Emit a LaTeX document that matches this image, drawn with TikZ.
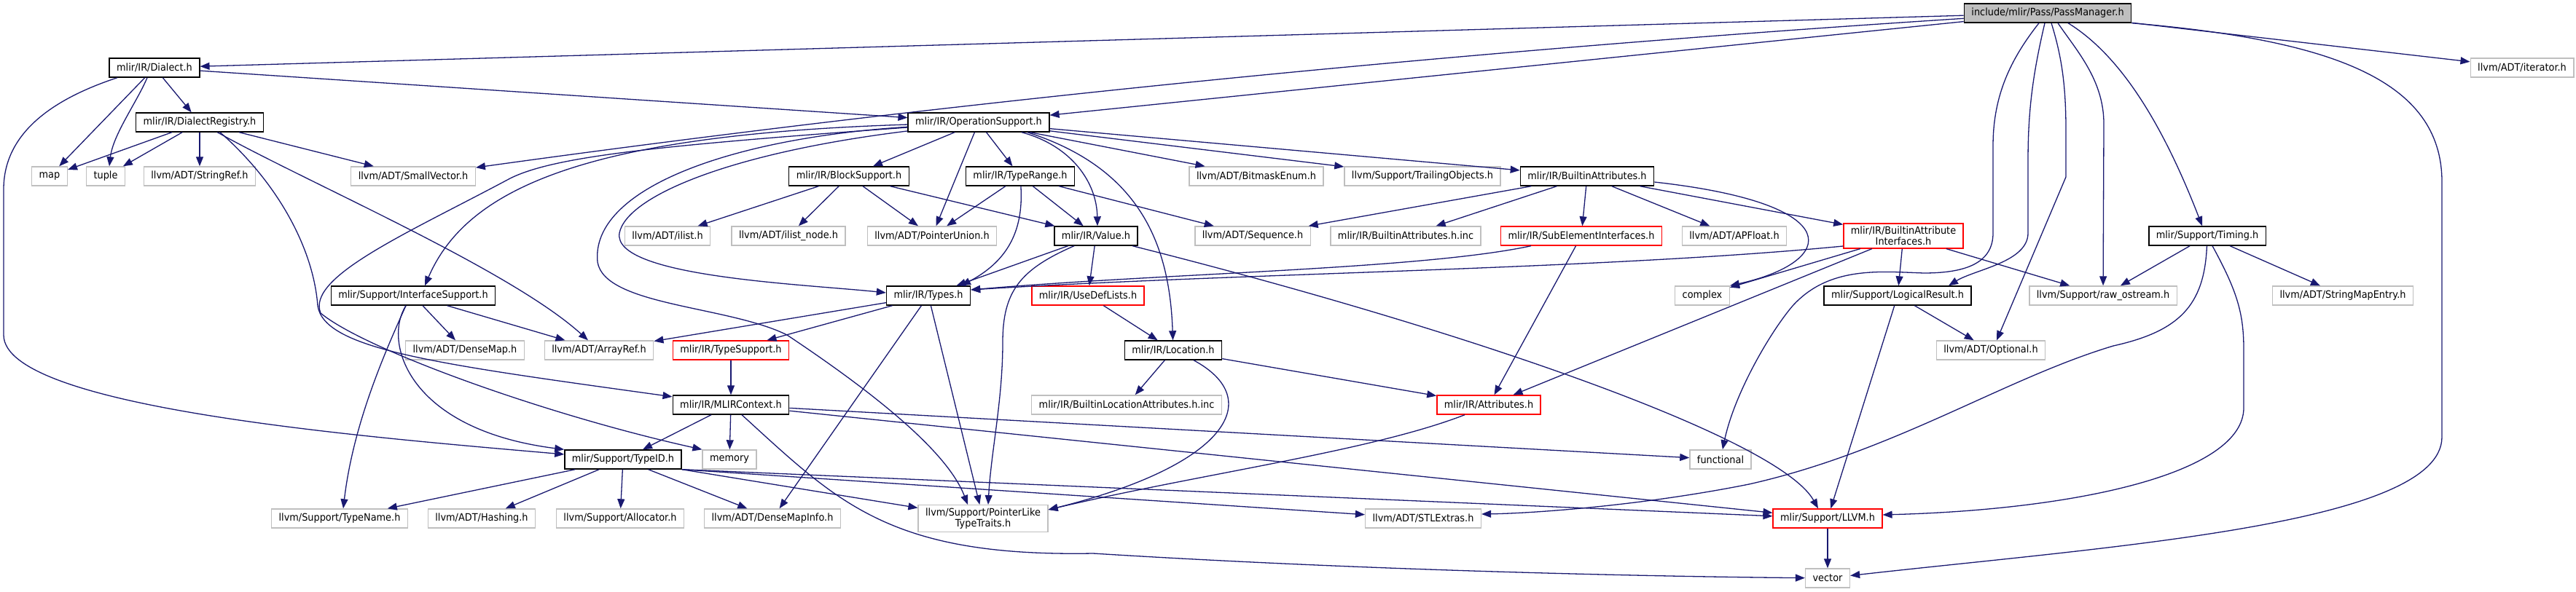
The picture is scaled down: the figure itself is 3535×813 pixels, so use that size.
\documentclass[tikz,border=0pt]{standalone}
\usepackage{fontspec}
\setmainfont{DejaVu Sans}[FakeStretch=0.92]
\usetikzlibrary{arrows.meta}
\definecolor{edgeblue}{HTML}{191970}
\definecolor{extgray}{HTML}{BFBFBF}
\begin{document}
\begin{tikzpicture}[x=1pt, y=-1pt, >={Triangle[length=13pt,width=10pt]},
  filebox/.style={draw, line width=1.4pt, fill=white, minimum height=26pt, inner xsep=10pt, inner ysep=4pt, align=center, font=\fontsize{14}{15}\selectfont},
  docfile/.style={filebox, draw=black}, extfile/.style={filebox, draw=extgray}, cutfile/.style={filebox, draw=red}, rootfile/.style={filebox, draw=black, fill=extgray},
  incl/.style={->, draw=edgeblue, line width=1.3pt}]
\useasboundingbox (0,0) rectangle (3535,813);
\node[rootfile] (pm) at (2810,18) {include/mlir/Pass/PassManager.h};
\node[docfile] (dia) at (212,93) {mlir/IR/Dialect.h}; \node[extfile] (iter) at (3461,93) {llvm/ADT/iterator.h};
\node[docfile] (reg) at (274,168) {mlir/IR/DialectRegistry.h}; \node[docfile] (ops) at (1343,168) {mlir/IR/OperationSupport.h};
\node[extfile] (map) at (68,242) {map}; \node[extfile] (tuple) at (145,242) {tuple};
\node[extfile] (sref) at (274,242) {llvm/ADT/StringRef.h}; \node[extfile] (svec) at (567,242) {llvm/ADT/SmallVector.h};
\node[docfile] (blk) at (1165,242) {mlir/IR/BlockSupport.h}; \node[docfile] (trng) at (1400,242) {mlir/IR/TypeRange.h};
\node[extfile] (bmask) at (1724,242) {llvm/ADT/BitmaskEnum.h}; \node[extfile] (trail) at (1952,242) {llvm/Support/TrailingObjects.h};
\node[docfile] (battr) at (2178,242) {mlir/IR/BuiltinAttributes.h};
\node[extfile] (ilist) at (916,324) {llvm/ADT/ilist.h}; \node[extfile] (inode) at (1082,324) {llvm/ADT/ilist\_node.h};
\node[extfile] (punion) at (1279,324) {llvm/ADT/PointerUnion.h}; \node[docfile] (val) at (1504,324) {mlir/IR/Value.h};
\node[extfile] (seq) at (1719,324) {llvm/ADT/Sequence.h}; \node[extfile] (binc) at (1929,324) {mlir/IR/BuiltinAttributes.h.inc};
\node[cutfile] (sub) at (2170,324) {mlir/IR/SubElementInterfaces.h}; \node[extfile] (apf) at (2380,324) {llvm/ADT/APFloat.h};
\node[cutfile] (bai) at (2612,324) {mlir/IR/BuiltinAttribute\\Interfaces.h}; \node[docfile] (tim) at (3029,324) {mlir/Support/Timing.h};
\node[docfile] (isup) at (567,406) {mlir/Support/InterfaceSupport.h}; \node[docfile] (types) at (1274,406) {mlir/IR/Types.h};
\node[cutfile] (udl) at (1493,406) {mlir/IR/UseDefLists.h}; \node[extfile] (cplx) at (2336,406) {complex};
\node[docfile] (lres) at (2604,406) {mlir/Support/LogicalResult.h}; \node[extfile] (raw) at (2886,406) {llvm/Support/raw\_ostream.h};
\node[extfile] (smap) at (3215,406) {llvm/ADT/StringMapEntry.h};
\node[extfile] (dmap) at (638,481) {llvm/ADT/DenseMap.h}; \node[extfile] (aref) at (822,481) {llvm/ADT/ArrayRef.h};
\node[cutfile] (tsup) at (1003,481) {mlir/IR/TypeSupport.h}; \node[docfile] (loc) at (1610,481) {mlir/IR/Location.h};
\node[extfile] (opt) at (2732,481) {llvm/ADT/Optional.h};
\node[docfile] (ctx) at (1003,556) {mlir/IR/MLIRContext.h}; \node[extfile] (blinc) at (1546,556) {mlir/IR/BuiltinLocationAttributes.h.inc};
\node[cutfile] (attr) at (2043,556) {mlir/IR/Attributes.h};
\node[docfile] (tid) at (855,631) {mlir/Support/TypeID.h}; \node[extfile] (mem) at (1001,631) {memory}; \node[extfile] (func) at (2361,631) {functional};
\node[extfile] (tname) at (466,712) {llvm/Support/TypeName.h}; \node[extfile] (hash) at (661,712) {llvm/ADT/Hashing.h};
\node[extfile] (alloc) at (851,712) {llvm/Support/Allocator.h}; \node[extfile] (dmi) at (1060,712) {llvm/ADT/DenseMapInfo.h};
\node[extfile] (plt) at (1349,712) {llvm/Support/PointerLike\\TypeTraits.h}; \node[extfile] (stl) at (1953,712) {llvm/ADT/STLExtras.h};
\node[cutfile] (llvm) at (2508,712) {mlir/Support/LLVM.h}; \node[extfile] (vec) at (2508,794) {vector};
\draw[incl] (pm) -- (dia); \draw[incl] (pm) -- (ops); \draw[incl] (pm) -- (iter);
\draw[incl] (pm) .. controls (2000,70) and (1300,140) .. (svec);
\draw[incl] ([xshift=-12pt]pm.south) .. controls (2760,80) and (2735,130) .. (2735,200) -- (2735,320) .. controls (2735,360) and (2700,375) .. (2640,375) .. controls (2580,373) and (2510,365) .. (2460,420) .. controls (2430,455) and (2380,540) .. (func);
\draw[incl] ([xshift=-4pt]pm.south) .. controls (2790,100) and (2783,150) .. (2783,220) -- (2783,320) .. controls (2783,360) and (2710,370) .. ([xshift=70pt]lres.north);
\draw[incl] ([xshift=5pt]pm.south) .. controls (2830,80) and (2835,120) .. (2835,180) -- (2835,243) -- ([xshift=8pt]opt.north);
\draw[incl] ([xshift=14pt]pm.south) .. controls (2850,70) and (2887,110) .. (2887,170) -- (raw);
\draw[incl] ([xshift=28pt]pm.south) .. controls (2900,70) and (2960,150) .. ([xshift=-7pt]tim.north);
\draw[incl] (pm.south east) .. controls (3200,55) and (3351,110) .. (3351,250) -- (3351,600) .. controls (3351,720) and (2900,750) .. (vec);
\draw[incl] (dia) -- (ops); \draw[incl] (dia) -- (reg); \draw[incl] (dia) -- (map);
\draw[incl] ([xshift=-10pt]dia.south) .. controls (188,140) and (155,185) .. ([xshift=5pt]tuple.north);
\draw[incl] ([xshift=-51pt]dia.south) .. controls (60,140) and (5,190) .. (5,260) -- (5,460) .. controls (5,560) and (500,600) .. (tid);
\draw[incl] (reg) -- (map); \draw[incl] (reg) -- (tuple); \draw[incl] (reg) -- (sref); \draw[incl] (reg) -- (svec);
\draw[incl] (reg) .. controls (420,250) and (700,370) .. (aref);
\draw[incl] ([xshift=28pt]reg.south) .. controls (380,250) and (430,340) .. (436,420) .. controls (445,480) and (600,500) .. (ctx);
\draw[incl] (ops) -- (blk); \draw[incl] (ops) -- (punion); \draw[incl] (ops) -- (trng);
\draw[incl] (ops) -- (bmask); \draw[incl] (ops) -- (trail); \draw[incl] (ops) -- (battr);
\draw[incl] ([xshift=59pt]ops.south) .. controls (1470,200) and (1505,250) .. ([xshift=2pt]val.north);
\draw[incl] ([xshift=67pt]ops.south) .. controls (1560,230) and (1605,330) .. (loc);
\draw[incl] (ops) .. controls (800,185) and (640,260) .. ([xshift=16pt]isup.north);
\draw[incl] (ops) .. controls (1000,190) and (810,260) .. (820,360) .. controls (830,420) and (1000,420) .. (1080,460) .. controls (1200,540) and (1300,620) .. ([xshift=-21pt]plt.north);
\draw[incl] (ops) .. controls (1000,210) and (860,270) .. (850,320) .. controls (840,380) and (1100,390) .. ([yshift=4pt]types.west);
\draw[incl] (ops) .. controls (900,200) and (760,215) .. (700,245) .. controls (560,320) and (420,380) .. (440,430) .. controls (500,480) and (750,570) .. (mem.north west);
\draw[incl] (blk) -- (ilist); \draw[incl] (blk) -- (inode); \draw[incl] (blk) -- (punion); \draw[incl] (blk) -- (val);
\draw[incl] (trng) -- (punion); \draw[incl] (trng) -- (val); \draw[incl] (trng) -- (seq);
\draw[incl] (trng) .. controls (1405,320) and (1380,360) .. ([xshift=45pt]types.north);
\draw[incl] (val) -- (types); \draw[incl] (val) -- (udl);
\draw[incl] ([xshift=-30pt]val.south) .. controls (1400,370) and (1376,400) .. (1376,470) .. controls (1376,550) and (1360,620) .. ([xshift=7pt]plt.north);
\draw[incl] ([xshift=50pt]val.south) .. controls (2000,450) and (2440,600) .. ([xshift=-13pt]llvm.north);
\draw[incl] (types) -- (aref); \draw[incl] (types) -- (tsup); \draw[incl] (types) -- (dmi); \draw[incl] (types) -- (plt);
\draw[incl] (udl) -- (loc);
\draw[incl] (loc) -- (blinc); \draw[incl] (loc) -- (attr);
\draw[incl] ([xshift=28pt]loc.south) .. controls (1740,550) and (1680,640) .. ([yshift=12pt]plt.east);
\draw[incl] ([xshift=-33pt]attr.south) .. controls (1880,620) and (1650,650) .. ([yshift=12pt]plt.east);
\draw[incl] (tsup) -- (ctx);
\draw[incl] (ctx) -- (tid); \draw[incl] (ctx) -- (mem); \draw[incl] (ctx) -- (func); \draw[incl] (ctx) -- (llvm);
\draw[incl] ([xshift=15pt]ctx.south) .. controls (1150,690) and (1220,765) .. (1500,760) .. controls (1900,785) and (2300,792) .. (vec);
\draw[incl] (tid) -- (tname); \draw[incl] (tid) -- (hash); \draw[incl] (tid) -- (alloc); \draw[incl] (tid) -- (dmi);
\draw[incl] (tid.south east) -- (plt); \draw[incl] (tid.south east) -- (stl); \draw[incl] (tid.south east) -- (llvm);
\draw[incl] ([xshift=-10pt]isup.south) .. controls (525,470) and (560,590) .. (tid.north west);
\draw[incl] ([xshift=-10pt]isup.south) .. controls (530,480) and (485,580) .. ([xshift=5pt]tname.north);
\draw[incl] (isup) -- (dmap); \draw[incl] (isup) -- (aref);
\draw[incl] (battr) -- (seq); \draw[incl] (battr) -- (binc); \draw[incl] (battr) -- (sub); \draw[incl] (battr) -- (apf); \draw[incl] (battr) -- (bai);
\draw[incl] ([yshift=-8pt]battr.east) .. controls (2540,280) and (2520,360) .. (cplx.north east);
\draw[incl] ([xshift=-69pt]sub.south) .. controls (1950,370) and (1600,375) .. ([yshift=8pt]types.east);
\draw[incl] (sub) -- (attr);
\draw[incl] ([yshift=-14pt]bai.west) .. controls (2200,370) and (1700,375) .. ([yshift=8pt]types.east);
\draw[incl] (bai) -- (cplx); \draw[incl] (bai) -- (attr); \draw[incl] (bai) -- (lres); \draw[incl] (bai) -- (raw);
\draw[incl] (lres) -- (llvm); \draw[incl] (lres) -- (opt);
\draw[incl] (tim) -- (raw); \draw[incl] (tim) -- (smap);
\draw[incl] (tim) .. controls (3025,420) and (2990,455) .. (2900,475) .. controls (2750,520) and (2600,620) .. (2400,665) .. controls (2250,695) and (2100,705) .. ([yshift=6pt]stl.east);
\draw[incl] ([xshift=7pt]tim.south) .. controls (3070,400) and (3079,430) .. (3079,480) -- (3079,560) .. controls (3079,650) and (2850,700) .. ([yshift=5pt]llvm.east);
\draw[incl] (llvm) -- (vec);
\end{tikzpicture}
\end{document}
